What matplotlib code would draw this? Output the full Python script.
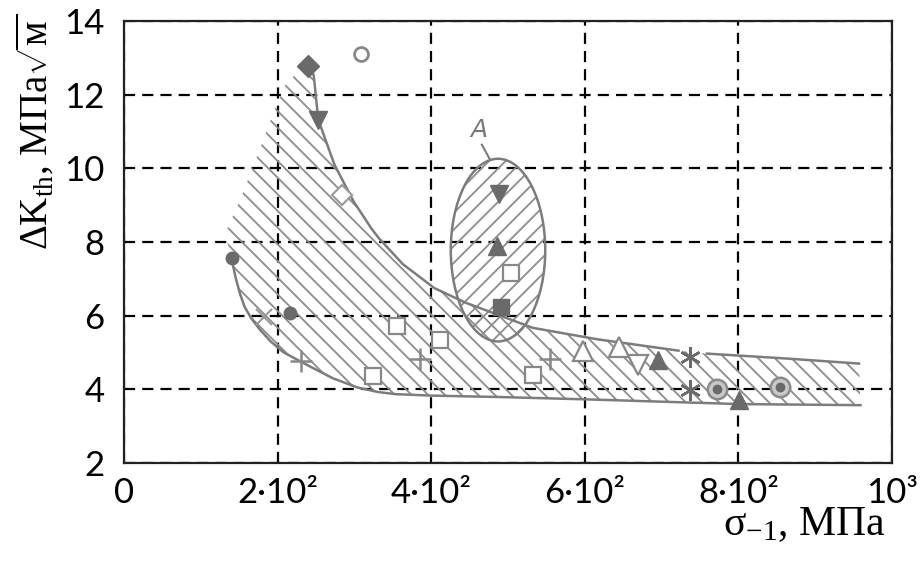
import numpy as np
import matplotlib
matplotlib.use('Agg')
import matplotlib.pyplot as plt
from matplotlib.patches import Ellipse

plt.rcParams['mathtext.fontset'] = 'custom'
plt.rcParams['mathtext.rm'] = 'Liberation Serif'
plt.rcParams['mathtext.it'] = 'Liberation Serif:italic'
plt.rcParams['hatch.linewidth'] = 1.3

# axis ticks
x_ticks = [0, 200, 400, 600, 800, 1000]
x_tick_labels = ['0', '2·10²', '4·10²', '6·10²', '8·10²', '10³']
y_ticks = [2, 4, 6, 8, 10, 12, 14]

# boundary of the scatter band
upper_x1 = [240, 247, 253, 274, 299, 322, 332, 363, 404, 445, 490, 532, 616, 722]
upper_y1 = [12.79, 12.53, 11.32, 10.1, 9.1, 8.37, 8.1, 7.4, 6.75, 6.35, 6.0, 5.67, 5.36, 5.05]
upper_x2 = [759, 860, 957]
upper_y2 = [4.97, 4.84, 4.70]
lower_x = [141, 142, 146, 151, 157, 166, 177, 191, 208, 244, 272, 304, 330, 353,
           400, 491, 598, 801, 959]
lower_y = [7.56, 7.35, 6.98, 6.6, 6.24, 5.92, 5.62, 5.3, 5.0, 4.6, 4.3, 4.05, 3.93, 3.87,
           3.83, 3.79, 3.73, 3.6, 3.57]
# left edge of hatching (no drawn line there)
edge_x = [131, 152, 177, 196, 210, 226]
edge_y = [8.2, 9.18, 10.53, 11.59, 12.26, 12.61]

# region A
ell_cx, ell_cy = 487, 7.78
ell_w, ell_h = 123, 4.96
label_a = (462, 11.05)
leader_x = [466, 476]
leader_y = [10.64, 10.26]

# data points by marker type
filled_circle_x, filled_circle_y = [141, 216], [7.56, 6.07]
filled_diamond_x, filled_diamond_y = [240], [12.79]
open_circle_x, open_circle_y = [309], [13.11]
tri_down_f_x, tri_down_f_y = [253, 488], [11.32, 9.29]
open_diamond_x, open_diamond_y = [284], [9.28]
cross_x, cross_y = [182], [5.97]
plus_x, plus_y = [230, 386, 555], [4.77, 4.82, 4.83]
open_square_x = [355, 324, 412, 532, 504]
open_square_y = [5.73, 4.37, 5.35, 4.4, 7.17]
filled_square_x, filled_square_y = [491], [6.23]
tri_up_o_x, tri_up_o_y = [598, 645], [5.04, 5.14]
tri_down_o_x, tri_down_o_y = [669], [4.65]
tri_up_f_x, tri_up_f_y = [486, 695, 801], [7.89, 4.79, 3.7]
star_x, star_y = [737, 737], [4.89, 3.99]
ring_x, ring_y = [772, 854], [4.0, 4.05]

line_c = '#7c7c7c'
hatch_c = '#8c8c8c'
dark = '#6a6a6a'

fig = plt.figure(figsize=(9.22, 5.63), dpi=100)
ax = fig.add_axes([124 / 922, 1 - 463 / 563, (892 - 124) / 922, (463 - 21) / 563])

# hatched band
band_x = upper_x1 + upper_x2 + lower_x[::-1] + edge_x
band_y = upper_y1 + upper_y2 + lower_y[::-1] + edge_y
ax.fill(band_x, band_y, facecolor='none', edgecolor=hatch_c, hatch='\\\\', linewidth=0, zorder=1)

ax.plot(upper_x1, upper_y1, color=line_c, lw=1.8, zorder=2)
ax.plot(upper_x2, upper_y2, color=line_c, lw=1.8, zorder=2)
ax.plot(lower_x, lower_y, color=line_c, lw=1.8, zorder=2)

ax.add_patch(Ellipse((ell_cx, ell_cy), ell_w, ell_h, facecolor='none', edgecolor=hatch_c,
                     hatch='//', linewidth=0, zorder=1))
ax.add_patch(Ellipse((ell_cx, ell_cy), ell_w, ell_h, facecolor='none', edgecolor=line_c,
                     linewidth=1.8, zorder=2))
ax.plot(leader_x, leader_y, color=line_c, lw=1.5, zorder=2)
ax.text(label_a[0], label_a[1], 'A', fontsize=18, style='italic', color='#777777',
        family='DejaVu Sans', ha='center', va='center')

# markers
kw = dict(ls='none', zorder=4)
ax.plot(filled_circle_x, filled_circle_y, 'o', ms=9, mfc=dark, mec=dark, **kw)
ax.plot(filled_diamond_x, filled_diamond_y, 'D', ms=11, mfc=dark, mec=dark, **kw)
ax.plot(open_circle_x, open_circle_y, 'o', ms=10, mfc='white', mec='#888888', mew=2, **kw)
ax.plot(tri_down_f_x, tri_down_f_y, 'v', ms=13, mfc=dark, mec=dark, **kw)
ax.plot(open_diamond_x, open_diamond_y, 'D', ms=10, mfc='white', mec='#999999', mew=1.5, **kw)
ax.plot(cross_x, cross_y, 'x', ms=12, mec='#999999', mew=1.5, **kw)
ax.plot(plus_x, plus_y, '+', ms=16, mec='#888888', mew=1.8, **kw)
ax.plot(open_square_x, open_square_y, 's', ms=12, mfc='white', mec='#888888', mew=1.6, **kw)
ax.plot(filled_square_x, filled_square_y, 's', ms=11, mfc=dark, mec=dark, **kw)
ax.plot(tri_up_o_x, tri_up_o_y, '^', ms=14, mfc='white', mec='#888888', mew=1.6, **kw)
ax.plot(tri_down_o_x, tri_down_o_y, 'v', ms=14, mfc='white', mec='#888888', mew=1.6, **kw)
ax.plot(tri_up_f_x, tri_up_f_y, '^', ms=13, mfc=dark, mec=dark, **kw)
ax.plot(star_x, star_y, marker=(6, 2, 0), ms=15, mec=dark, mew=1.8, **kw)
ax.plot(ring_x, ring_y, 'o', ms=14, mfc='#c8c8c8', mec='#8a8a8a', mew=1.8, **kw)
ax.plot(ring_x, ring_y, 'o', ms=6, mfc=dark, mec=dark, **kw)

ax.set_xlim(0, 1000)
ax.set_ylim(2, 14)
ax.set_xticks(x_ticks)
ax.set_xticklabels(x_tick_labels)
ax.set_yticks(y_ticks)
ax.grid(True, color='black', linestyle=(0, (5, 3.2)), linewidth=1.6)
ax.set_axisbelow(True)
for s in ax.spines.values():
    s.set_linewidth(1.6)
    s.set_color('#222222')
ax.tick_params(length=0, labelsize=25, pad=10)
ax.tick_params(axis='y', pad=14)
for lab in ax.get_xticklabels() + ax.get_yticklabels():
    lab.set_family('Lato')

fig.text(36 / 922, 1 - 132 / 563, r'ΔK$_{\mathrm{th}}$, МПа$\sqrt{\mathrm{м}}$', rotation=90,
         ha='center', va='center', fontsize=28, family='Liberation Serif')
fig.text(886 / 922, 1 - 525 / 563, r'σ$_{\mathrm{-1}}$, МПа', ha='right', va='center',
         fontsize=30, family='Liberation Serif')

fig.savefig('out.png', dpi=100)
